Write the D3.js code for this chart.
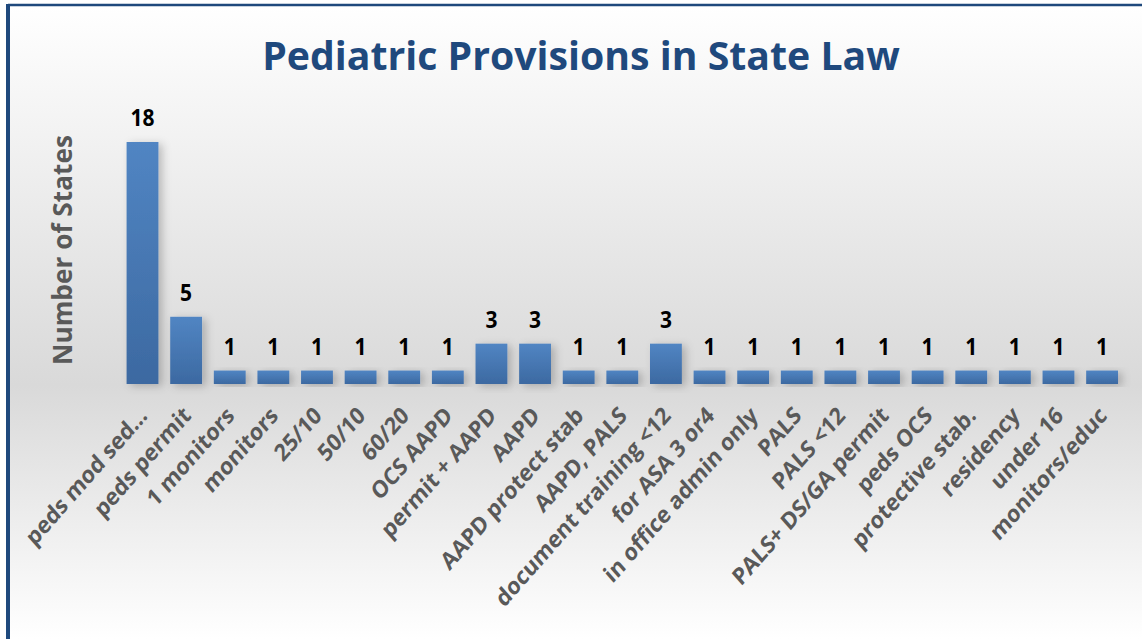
<!DOCTYPE html>
<html>
<head>
<meta charset="utf-8">
<script src="https://cdn.jsdelivr.net/npm/d3@7"></script>
<style>
  body { margin: 0; background: #fff; }
  svg { display: block; font-family: "Open Sans", "Noto Sans", sans-serif; }
</style>
</head>
<body>
<svg id="chart"></svg>
<script>
// data
const categories = ["peds mod sed…", "peds permit", "1 monitors", "monitors", "25/10", "50/10", "60/20",
  "OCS AAPD", "permit + AAPD", "AAPD", "AAPD protect stab", "AAPD, PALS", "document training <12",
  "for ASA 3 or4", "in office admin only", "PALS", "PALS <12", "PALS+ DS/GA permit", "peds OCS",
  "protective stab.", "residency", "under 16", "monitors/educ"];
const states = [18, 5, 1, 1, 1, 1, 1, 1, 3, 3, 1, 1, 3, 1, 1, 1, 1, 1, 1, 1, 1, 1, 1];
const titleText = "Pediatric Provisions in State Law";
const yTitle = "Number of States";

const W = 1142, H = 639;
const svg = d3.select("#chart").attr("width", W).attr("height", H);
const defs = svg.append("defs");

// background gradient of the plot area
const bg = defs.append("linearGradient").attr("id", "bg").attr("x1", 0).attr("x2", 0).attr("y1", 0).attr("y2", 1);
bg.append("stop").attr("offset", "0%").attr("stop-color", "#ffffff");
bg.append("stop").attr("offset", "60%").attr("stop-color", "#d9d9d9");
bg.append("stop").attr("offset", "100%").attr("stop-color", "#ffffff");

const barGrad = defs.append("linearGradient").attr("id", "bar").attr("x1", 0).attr("x2", 0).attr("y1", 0).attr("y2", 1);
barGrad.append("stop").attr("offset", "0%").attr("stop-color", "#5185c3");
barGrad.append("stop").attr("offset", "100%").attr("stop-color", "#3c69a1");

const shadow = defs.append("filter").attr("id", "shadow")
  .attr("x", "-50%").attr("y", "-20%").attr("width", "250%").attr("height", "140%");
shadow.append("feDropShadow").attr("dx", 4).attr("dy", 2).attr("stdDeviation", 4)
  .attr("flood-color", "#000").attr("flood-opacity", 0.22);

svg.append("rect").attr("x", 8).attr("y", 5).attr("width", W - 8).attr("height", H - 5).attr("fill", "url(#bg)");
svg.append("line").attr("x1", 8).attr("x2", W).attr("y1", 5).attr("y2", 5)
  .attr("stroke", "#1f497d").attr("stroke-width", 2.5);
svg.append("line").attr("x1", 8).attr("x2", 8).attr("y1", 4).attr("y2", H)
  .attr("stroke", "#1f497d").attr("stroke-width", 4);

const x = d3.scaleBand().domain(categories).range([120.7, 1123.9]).paddingInner(0.27).paddingOuter(0.135);
const y = d3.scaleLinear().domain([0, 18]).range([384, 142]);

const data = categories.map((c, i) => ({ c, v: states[i] }));

svg.append("g").selectAll("rect").data(data).join("rect")
  .attr("x", d => x(d.c))
  .attr("y", d => y(d.v))
  .attr("width", x.bandwidth())
  .attr("height", d => y(0) - y(d.v))
  .attr("fill", "url(#bar)")
  .attr("filter", "url(#shadow)");

svg.append("g").selectAll("text").data(data).join("text")
  .attr("transform", d => `translate(${x(d.c) + x.bandwidth() / 2},${y(d.v) - 16}) scale(1,1.12)`)
  .attr("text-anchor", "middle")
  .attr("font-size", 21).attr("font-weight", 700).attr("fill", "#000")
  .text(d => d.v);

// category labels, rotated -45 (picture is a bit stretched vertically)
const xAxis = d3.axisBottom(x).tickSize(0).tickPadding(0);
const gx = svg.append("g").attr("transform", "translate(0,384)").call(xAxis);
gx.select(".domain").remove();
gx.selectAll("text")
  .attr("transform", "translate(6,33) scale(1,1.14) rotate(-45)")
  .attr("text-anchor", "end")
  .attr("dy", 0)
  .attr("y", 0)
  .attr("font-size", 21).attr("font-weight", 700).attr("fill", "#595959")
  .attr("font-family", "'Open Sans', sans-serif");

const title = svg.append("text").attr("x", 581).attr("y", 70).attr("text-anchor", "middle")
  .attr("font-size", 40).attr("font-weight", 700).attr("fill", "#1f497d").text(titleText);
const tw = title.node().getComputedTextLength();
title.attr("font-size", 40 * 638 / tw);

const yt = svg.append("text").attr("transform", "translate(72,250) rotate(-90)").attr("text-anchor", "middle")
  .attr("font-size", 24).attr("font-weight", 700).attr("fill", "#595959").text(yTitle);
const yw = yt.node().getComputedTextLength();
yt.attr("font-size", 24 * 230 / yw);
</script>
</body>
</html>
